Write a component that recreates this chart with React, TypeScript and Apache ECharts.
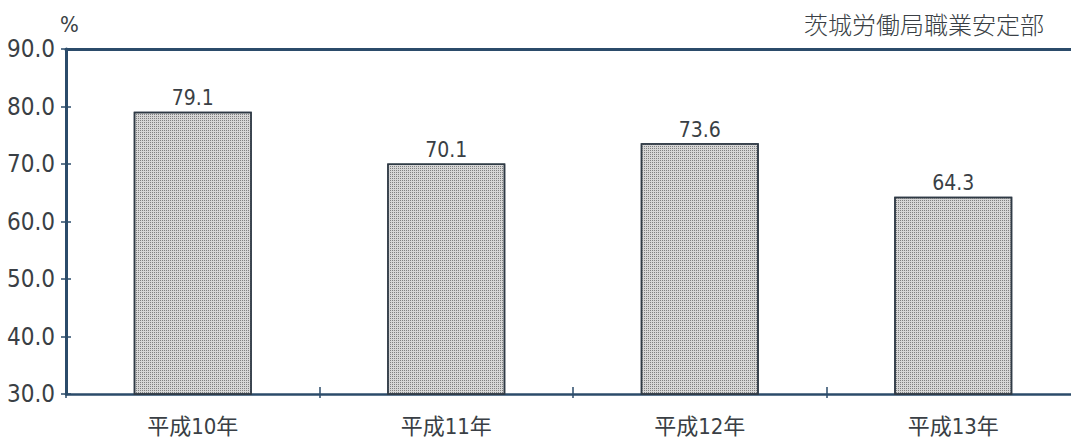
import React, { useEffect, useRef } from "react";
import * as echarts from "echarts";

const categories = ["平成10年", "平成11年", "平成12年", "平成13年"];
const values = [79.1, 70.1, 73.6, 64.3];
const yMin = 30;
const yMax = 90;
const yStep = 10;
const unitLabel = "%";
const sourceLabel = "茨城労働局職業安定部";

const AXIS = "#2b4b6a";
const TEXT = "#3a3f45";
const NARROW = "'DejaVu Sans Condensed', Roboto, 'Noto Sans CJK JP', sans-serif";

export default function App() {
  const ref = useRef<HTMLDivElement>(null);
  useEffect(() => {
    if (!ref.current) return;
    const chart = echarts.init(ref.current, undefined, { renderer: "svg" });
    chart.setOption({
      animation: false,
      backgroundColor: "#ffffff",
      grid: { left: 66, right: 10, top: 49, bottom: 45, containLabel: false },
      graphic: [
        {
          type: "text",
          left: 60,
          top: 13,
          style: { text: unitLabel, fontSize: 22, fill: TEXT, fontFamily: NARROW },
        },
        {
          type: "text",
          left: 804,
          top: 11,
          style: { text: sourceLabel, fontSize: 24, fill: TEXT, fontFamily: "'Noto Sans CJK JP', sans-serif", fontWeight: 300 },
        },
      ],
      xAxis: [
        {
          type: "category",
          data: categories,
          position: "bottom",
          axisLine: { show: true, lineStyle: { color: AXIS, width: 2.5 } },
          axisTick: { show: true, length: 4, alignWithLabel: false, lineStyle: { color: AXIS, width: 1.5 } },
          axisLabel: { color: TEXT, fontSize: 22, margin: 21, fontFamily: NARROW },
          splitLine: { show: false },
        },
        {
          type: "category",
          data: categories,
          position: "bottom",
          axisLine: { show: false },
          axisTick: { show: true, inside: true, length: 7, alignWithLabel: false, lineStyle: { color: AXIS, width: 1.5 } },
          axisLabel: { show: false },
          splitLine: { show: false },
        },
        {
          type: "category",
          data: categories,
          position: "top",
          axisLine: { show: true, lineStyle: { color: AXIS, width: 3 } },
          axisTick: { show: false },
          axisLabel: { show: false },
          splitLine: { show: false },
        },
      ],
      yAxis: [
        {
          type: "value",
          min: yMin,
          max: yMax,
          interval: yStep,
          position: "left",
          axisLine: { show: true, lineStyle: { color: AXIS, width: 3 } },
          axisTick: { show: true, length: 5, lineStyle: { color: AXIS, width: 1.5 } },
          axisLabel: {
            color: TEXT,
            fontSize: 24,
            margin: 11,
            fontFamily: NARROW,
            formatter: (v: number) => v.toFixed(1),
          },
          splitLine: { show: false },
        },
        {
          type: "value",
          min: yMin,
          max: yMax,
          interval: yStep,
          position: "left",
          axisLine: { show: false },
          axisTick: { show: true, inside: true, length: 5, lineStyle: { color: AXIS, width: 1.5 } },
          axisLabel: { show: false },
          splitLine: { show: false },
        },
      ],
      series: [
        {
          type: "bar",
          data: values,
          xAxisIndex: 0,
          yAxisIndex: 0,
          barWidth: 118,
          itemStyle: {
            color: "#d6d6d6",
            borderColor: "#2f3a45",
            borderWidth: 1.5,
            decal: {
              symbol: "rect",
              symbolSize: 1,
              dashArrayX: [1, 1],
              dashArrayY: [1, 1],
              color: "#808080",
              rotation: 0,
            },
          },
          label: {
            show: true,
            position: "top",
            distance: 3,
            color: TEXT,
            fontSize: 21,
            fontFamily: NARROW,
            formatter: (p: any) => Number(p.value).toFixed(1),
          },
        },
      ],
    });
    return () => chart.dispose();
  }, []);
  return (
    <div style={{ position: "fixed", left: 0, top: 0, width: 1071, height: 439, overflow: "hidden", background: "#fff" }}>
      <div ref={ref} style={{ width: 1090, height: 439 }} />
    </div>
  );
}
